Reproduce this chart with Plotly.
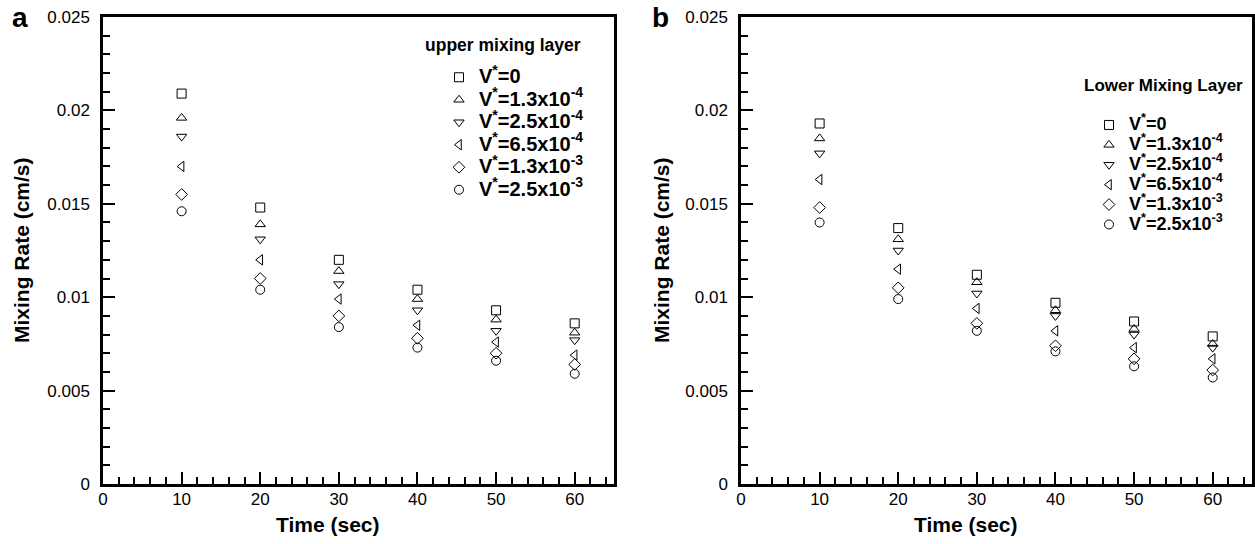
import plotly.graph_objects as go

time_sec = [10, 20, 30, 40, 50, 60]

series_labels = [
    "V<sup>*</sup>=0",
    "V<sup>*</sup>=1.3x10<sup>-4</sup>",
    "V<sup>*</sup>=2.5x10<sup>-4</sup>",
    "V<sup>*</sup>=6.5x10<sup>-4</sup>",
    "V<sup>*</sup>=1.3x10<sup>-3</sup>",
    "V<sup>*</sup>=2.5x10<sup>-3</sup>",
]
symbols = ["square-open", "triangle-up-open", "triangle-down-open",
           "triangle-left-open", "diamond-open", "circle-open"]

upper_v0 = [0.0209, 0.0148, 0.0120, 0.0104, 0.0093, 0.0086]
upper_v13e4 = [0.0196, 0.0139, 0.0114, 0.0099, 0.0088, 0.0081]
upper_v25e4 = [0.0186, 0.0131, 0.0107, 0.0093, 0.0082, 0.0077]
upper_v65e4 = [0.0170, 0.0120, 0.0099, 0.0085, 0.0076, 0.0069]
upper_v13e3 = [0.0155, 0.0110, 0.0090, 0.0078, 0.0070, 0.0064]
upper_v25e3 = [0.0146, 0.0104, 0.0084, 0.0073, 0.0066, 0.0059]

lower_v0 = [0.0193, 0.0137, 0.0112, 0.0097, 0.0087, 0.0079]
lower_v13e4 = [0.0185, 0.0131, 0.0108, 0.0093, 0.0083, 0.0075]
lower_v25e4 = [0.0177, 0.0125, 0.0102, 0.0090, 0.0080, 0.0073]
lower_v65e4 = [0.0163, 0.0115, 0.0094, 0.0082, 0.0073, 0.0067]
lower_v13e3 = [0.0148, 0.0105, 0.0086, 0.0074, 0.0067, 0.0061]
lower_v25e3 = [0.0140, 0.0099, 0.0082, 0.0071, 0.0063, 0.0057]

upper = [upper_v0, upper_v13e4, upper_v25e4, upper_v65e4, upper_v13e3, upper_v25e3]
lower = [lower_v0, lower_v13e4, lower_v25e4, lower_v65e4, lower_v13e3, lower_v25e3]

FONT = "Liberation Sans, Arial, Helvetica, sans-serif"
W, H = 1255, 544


def big(lab, size):
    return '<span style="font-size:%dpx">%s</span>' % (size, lab)


fig = go.Figure()
for lab, sym, ys in zip(series_labels, symbols, upper):
    fig.add_trace(go.Scatter(x=time_sec, y=ys, mode="markers", name=big(lab, 20),
                             marker=dict(symbol=sym, size=9, color="black",
                                         line=dict(color="black", width=1)),
                             xaxis="x", yaxis="y", legend="legend"))
for lab, sym, ys in zip(series_labels, symbols, lower):
    fig.add_trace(go.Scatter(x=time_sec, y=ys, mode="markers", name=big(lab, 18),
                             marker=dict(symbol=sym, size=9, color="black",
                                         line=dict(color="black", width=1)),
                             xaxis="x2", yaxis="y2", legend="legend2"))


def px_x(p):
    return p / W


def px_y(p):
    return 1 - p / H


xa = dict(range=[0, 65], dtick=10, tick0=0, ticks="inside", ticklen=12, tickwidth=2,
          tickcolor="black", showline=True, linewidth=2.5, linecolor="black", mirror=True,
          showgrid=False, zeroline=False, automargin=False,
          tickfont=dict(family=FONT, size=17, color="black"),
          minor=dict(dtick=2, ticks="inside", ticklen=7, tickwidth=1.5, tickcolor="black"),
          ticklabelstandoff=-2)
ya = dict(range=[0, 0.025], dtick=0.005, tick0=0, ticks="inside", ticklen=12, tickwidth=2,
          tickcolor="black", showline=True, linewidth=2.5, linecolor="black", mirror=True,
          showgrid=False, zeroline=False, automargin=False,
          tickfont=dict(family=FONT, size=17, color="black"),
          minor=dict(dtick=0.001, ticks="inside", ticklen=7, tickwidth=1.5, tickcolor="black"),
          ticklabelstandoff=7)

leg_font = dict(family=FONT, size=15, color="black", weight="bold")
leg2_font = dict(family=FONT, size=13, color="black", weight="bold")


def ann(text, x, y, size, xanchor="center", angle=0):
    return dict(text=text, x=px_x(x), y=px_y(y), xref="paper", yref="paper",
                xanchor=xanchor, yanchor="middle", showarrow=False, textangle=angle,
                font=dict(family=FONT, size=size, color="black"))


fig.update_layout(
    width=W, height=H,
    margin=dict(l=0, r=0, t=0, b=0),
    paper_bgcolor="white", plot_bgcolor="white",
    xaxis=dict(xa, domain=[px_x(103), px_x(614)], anchor="y"),
    yaxis=dict(ya, domain=[px_y(484), px_y(17)], anchor="x"),
    xaxis2=dict(xa, domain=[px_x(741), px_x(1252)], anchor="y2"),
    yaxis2=dict(ya, domain=[px_y(484), px_y(17)], anchor="x2"),
    legend=dict(x=px_x(439), y=px_y(61), xanchor="left", yanchor="top",
                font=leg_font, bgcolor="rgba(0,0,0,0)", borderwidth=0, tracegroupgap=0),
    legend2=dict(x=px_x(1089), y=px_y(110), xanchor="left", yanchor="top",
                 font=leg2_font, bgcolor="rgba(0,0,0,0)", borderwidth=0, tracegroupgap=0),
    showlegend=True,
    annotations=[
        ann("<b>upper mixing layer</b>", 583, 45, 17.5, "right"),
        ann("<b>Lower Mixing Layer</b>", 1245, 85, 17, "right"),
        ann("<b>a</b>", 10, 17, 28, "left"),
        ann("<b>b</b>", 650, 17, 28, "left"),
        ann("<b>Time (sec)</b>", 328, 524, 21),
        ann("<b>Time (sec)</b>", 966, 524, 21),
        ann("<b>Mixing Rate (cm/s)</b>", 22, 250, 21, angle=-90),
        ann("<b>Mixing Rate (cm/s)</b>", 662, 250, 21, angle=-90),
    ],
)

fig.write_html("out.html")
